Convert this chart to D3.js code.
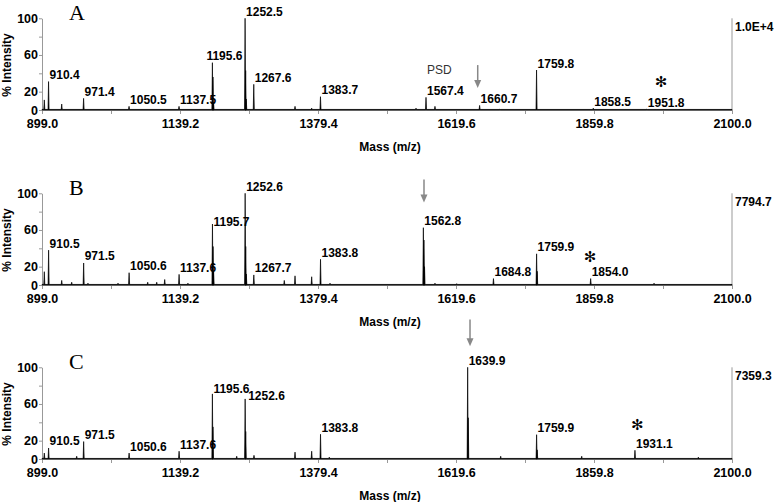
<!DOCTYPE html>
<html>
<head>
<meta charset="utf-8">
<script src="https://cdn.jsdelivr.net/npm/d3@7"></script>
<style>
body { margin:0; background:#fff; }
text { font-family: "Liberation Sans", Arial, sans-serif; }
.tick text { font-size:12.5px; font-weight:bold; fill:#000; }
.domain, .tick line { stroke:#999; }
</style>
</head>
<body>
<div id="chart"></div>
<script>
// x axis ticks (m/z), labels on every other tick
var massTicks = [899.0, 1019.1, 1139.2, 1259.3, 1379.4, 1499.5, 1619.6, 1739.7, 1859.8, 1979.9, 2100.0];
var intTicks = [0, 20, 40, 60, 80, 100];
var intLabels = [0, 20, 60, 100];

// Spectrum A: peak m/z and % intensity
var massA = [903.0, 910.4, 933.3, 971.4, 1050.5, 1137.5, 1195.6, 1196.6, 1197.6, 1252.5, 1253.5, 1254.5, 1267.6,
             1339.4, 1368.4, 1383.7, 1550.0, 1567.4, 1583.0, 1660.7, 1696.0, 1759.8, 1858.5, 1951.8];
var intA  = [11, 31, 6.5, 12.7, 4, 4, 51.6, 36, 8, 100, 43, 12, 28,
             4, 2, 14.5, 2, 13.8, 4, 5, 1, 43.6, 2, 1];
var labelA = [910.4, 971.4, 1050.5, 1137.5, 1195.6, 1252.5, 1267.6, 1383.7, 1567.4, 1660.7, 1759.8, 1858.5, 1951.8];

// Spectrum B
var massB = [903.0, 910.5, 933.3, 950.7, 971.5, 979.0, 1031.3, 1050.6, 1083.0, 1098.7, 1112.6, 1137.6, 1153.0,
             1195.7, 1196.7, 1197.7, 1252.6, 1253.6, 1254.6, 1267.7, 1320.7, 1339.4, 1368.4, 1383.8, 1400.3,
             1562.8, 1563.8, 1564.8, 1583.0, 1620.8, 1684.8, 1759.9, 1760.9, 1854.0, 1964.3];
var intB  = [14.5, 38, 5, 3, 24, 2, 2, 13.4, 3, 3, 6, 11.6, 2,
             66.5, 42, 15, 100, 42, 12, 11, 5, 10, 9, 28, 2,
             62.5, 49, 20, 2, 1.5, 7, 34, 15, 7, 2];
var labelB = [910.5, 971.5, 1050.6, 1137.6, 1195.7, 1252.6, 1267.7, 1383.8, 1562.8, 1684.8, 1759.9, 1854.0];

// Spectrum C
var massC = [903.0, 910.5, 959.4, 971.5, 1050.6, 1137.6, 1195.6, 1196.6, 1237.9, 1252.6, 1253.6, 1268.0,
             1339.4, 1368.4, 1383.8, 1399.0, 1639.9, 1640.9, 1697.4, 1759.9, 1760.9, 1838.4, 1931.1, 2041.4];
var intC  = [6.5, 12, 3, 19, 6.5, 8.5, 71, 35, 3, 65.5, 30, 4,
             7.5, 8.5, 27, 2, 100, 45, 3, 26.5, 10, 3, 9.5, 2];
var labelC = [910.5, 971.5, 1050.6, 1137.6, 1195.6, 1252.6, 1383.8, 1639.9, 1759.9, 1931.1];

// full-scale counts shown at the right of each trace
var fullScale = ["1.0E+4", "7794.7", "7359.3"];
var letters = ["A", "B", "C"];

// arrows: [m/z, top %, tip %]; asterisks: [m/z, %]
var arrows = [[1657.4, 49, 24], [1563.9, 115, 90], [1644.0, 152, 123]];
var stars = [[1976.4, 31], [1852.9, 30], [1935.2, 37]];
var psdNote = [1569.0, 39];

var width = 776, height = 502;
var panelBase = [110, 285, 459];
var plotH = 91.7;
var peakHalf = 0.9;   // half width of a peak, m/z
var noiseLevel = 0.6;

// label nudges [dx, dy] for crowded labels
var nudge = [{"1195.6": [-7, 0]}, {"1195.7": [0, 4.5]}, {"1195.6": [0, 2], "1252.6": [2, 4]}];

var panels = [
    {mass: massA, inten: intA, labels: labelA},
    {mass: massB, inten: intB, labels: labelB},
    {mass: massC, inten: intC, labels: labelC}
];

var svg = d3.select("#chart")
    .append("svg")
    .attr("width", width)
    .attr("height", height);

var x = d3.scaleLinear()
    .domain([899, 2100])
    .range([42, 732]);

panels.forEach(function(p, i) {
    var base = panelBase[i];
    var y = d3.scaleLinear()
        .domain([0, 100])
        .range([base, base - plotH]);

    var g = svg.append("g");

    // axes
    g.append("g")
        .attr("transform", "translate(0," + base + ")")
        .call(d3.axisBottom(x)
            .tickValues(massTicks)
            .tickSize(4)
            .tickSizeOuter(0)
            .tickPadding(5)
            .tickFormat(function(d, j) { return j % 2 == 0 ? d.toFixed(1) : ""; }));

    g.append("g")
        .attr("transform", "translate(42,0)")
        .call(d3.axisLeft(y)
            .tickValues(intTicks)
            .tickSize(3)
            .tickSizeOuter(0)
            .tickPadding(1)
            .tickFormat(function(d) { return intLabels.indexOf(d) >= 0 ? d : ""; }));

    g.append("line")
        .attr("x1", x(2100)).attr("x2", x(2100))
        .attr("y1", y(0)).attr("y2", y(100))
        .attr("stroke", "#999");

    g.append("text")
        .attr("x", x(2100) + 3)
        .attr("y", y(100) + 12.5)
        .style("font-size", "12px")
        .style("font-weight", "bold")
        .text(fullScale[i]);

    g.append("text")
        .attr("transform", "translate(11," + (base - 45) + ") rotate(-90)")
        .attr("text-anchor", "middle")
        .style("font-size", "12px")
        .style("font-weight", "bold")
        .text("% Intensity");

    g.append("text")
        .attr("x", 390)
        .attr("y", base + 40.5)
        .attr("text-anchor", "middle")
        .style("font-size", "12px")
        .style("font-weight", "bold")
        .text("Mass (m/z)");

    g.append("text")
        .attr("x", 69)
        .attr("y", y(100) + 1.5)
        .style("font-family", "'Liberation Serif', 'Times New Roman', serif")
        .style("font-size", "22px")
        .text(letters[i]);

    // spectrum trace: each peak is a narrow spike on a low noise floor
    var pts = [[899, noiseLevel]];
    p.mass.forEach(function(m, k) {
        pts.push([m - peakHalf, noiseLevel]);
        pts.push([m, p.inten[k]]);
        pts.push([m + peakHalf, noiseLevel]);
    });
    pts.push([2100, noiseLevel]);

    var area = d3.area()
        .x(function(d) { return x(d[0]); })
        .y0(y(0))
        .y1(function(d) { return y(d[1]); });

    g.append("path")
        .datum(pts)
        .attr("d", area)
        .attr("fill", "#000")
        .attr("stroke", "#000")
        .attr("stroke-width", 0.7)
        .attr("stroke-linejoin", "miter");

    // peak labels
    g.selectAll(".peaklabel")
        .data(p.labels)
        .enter().append("text")
        .attr("class", "peaklabel")
        .attr("x", function(m) {
            var n = nudge[i][m.toFixed(1)];
            return x(m) + 1 + (n ? n[0] : 0);
        })
        .attr("y", function(m) {
            var k = p.mass.indexOf(m);
            var n = nudge[i][m.toFixed(1)];
            return y(p.inten[k]) - 2.5 + (n ? n[1] : 0);
        })
        .style("font-size", "12px")
        .style("font-weight", "bold")
        .text(function(m) { return m.toFixed(1); });

    // arrow marking the precursor
    var a = arrows[i];
    g.append("line")
        .attr("x1", x(a[0])).attr("x2", x(a[0]))
        .attr("y1", y(a[1])).attr("y2", y(a[2]) - 6)
        .attr("stroke", "#888")
        .attr("stroke-width", 1.5);
    g.append("path")
        .attr("d", "M" + (x(a[0]) - 3.5) + "," + (y(a[2]) - 8) +
                   "L" + (x(a[0]) + 3.5) + "," + (y(a[2]) - 8) +
                   "L" + x(a[0]) + "," + y(a[2]) + "Z")
        .attr("fill", "#888");

    // asterisk
    g.append("text")
        .attr("x", x(stars[i][0]))
        .attr("y", y(stars[i][1]) + 5)
        .attr("text-anchor", "middle")
        .style("font-family", "'DejaVu Sans', sans-serif")
        .style("font-size", "15px")
        .text("\u273B");

    if (i == 0) {
        g.append("text")
            .attr("x", x(psdNote[0]))
            .attr("y", y(psdNote[1]))
            .style("font-size", "12px")
            .style("fill", "#333")
            .text("PSD");
    }
});
</script>
</body>
</html>
